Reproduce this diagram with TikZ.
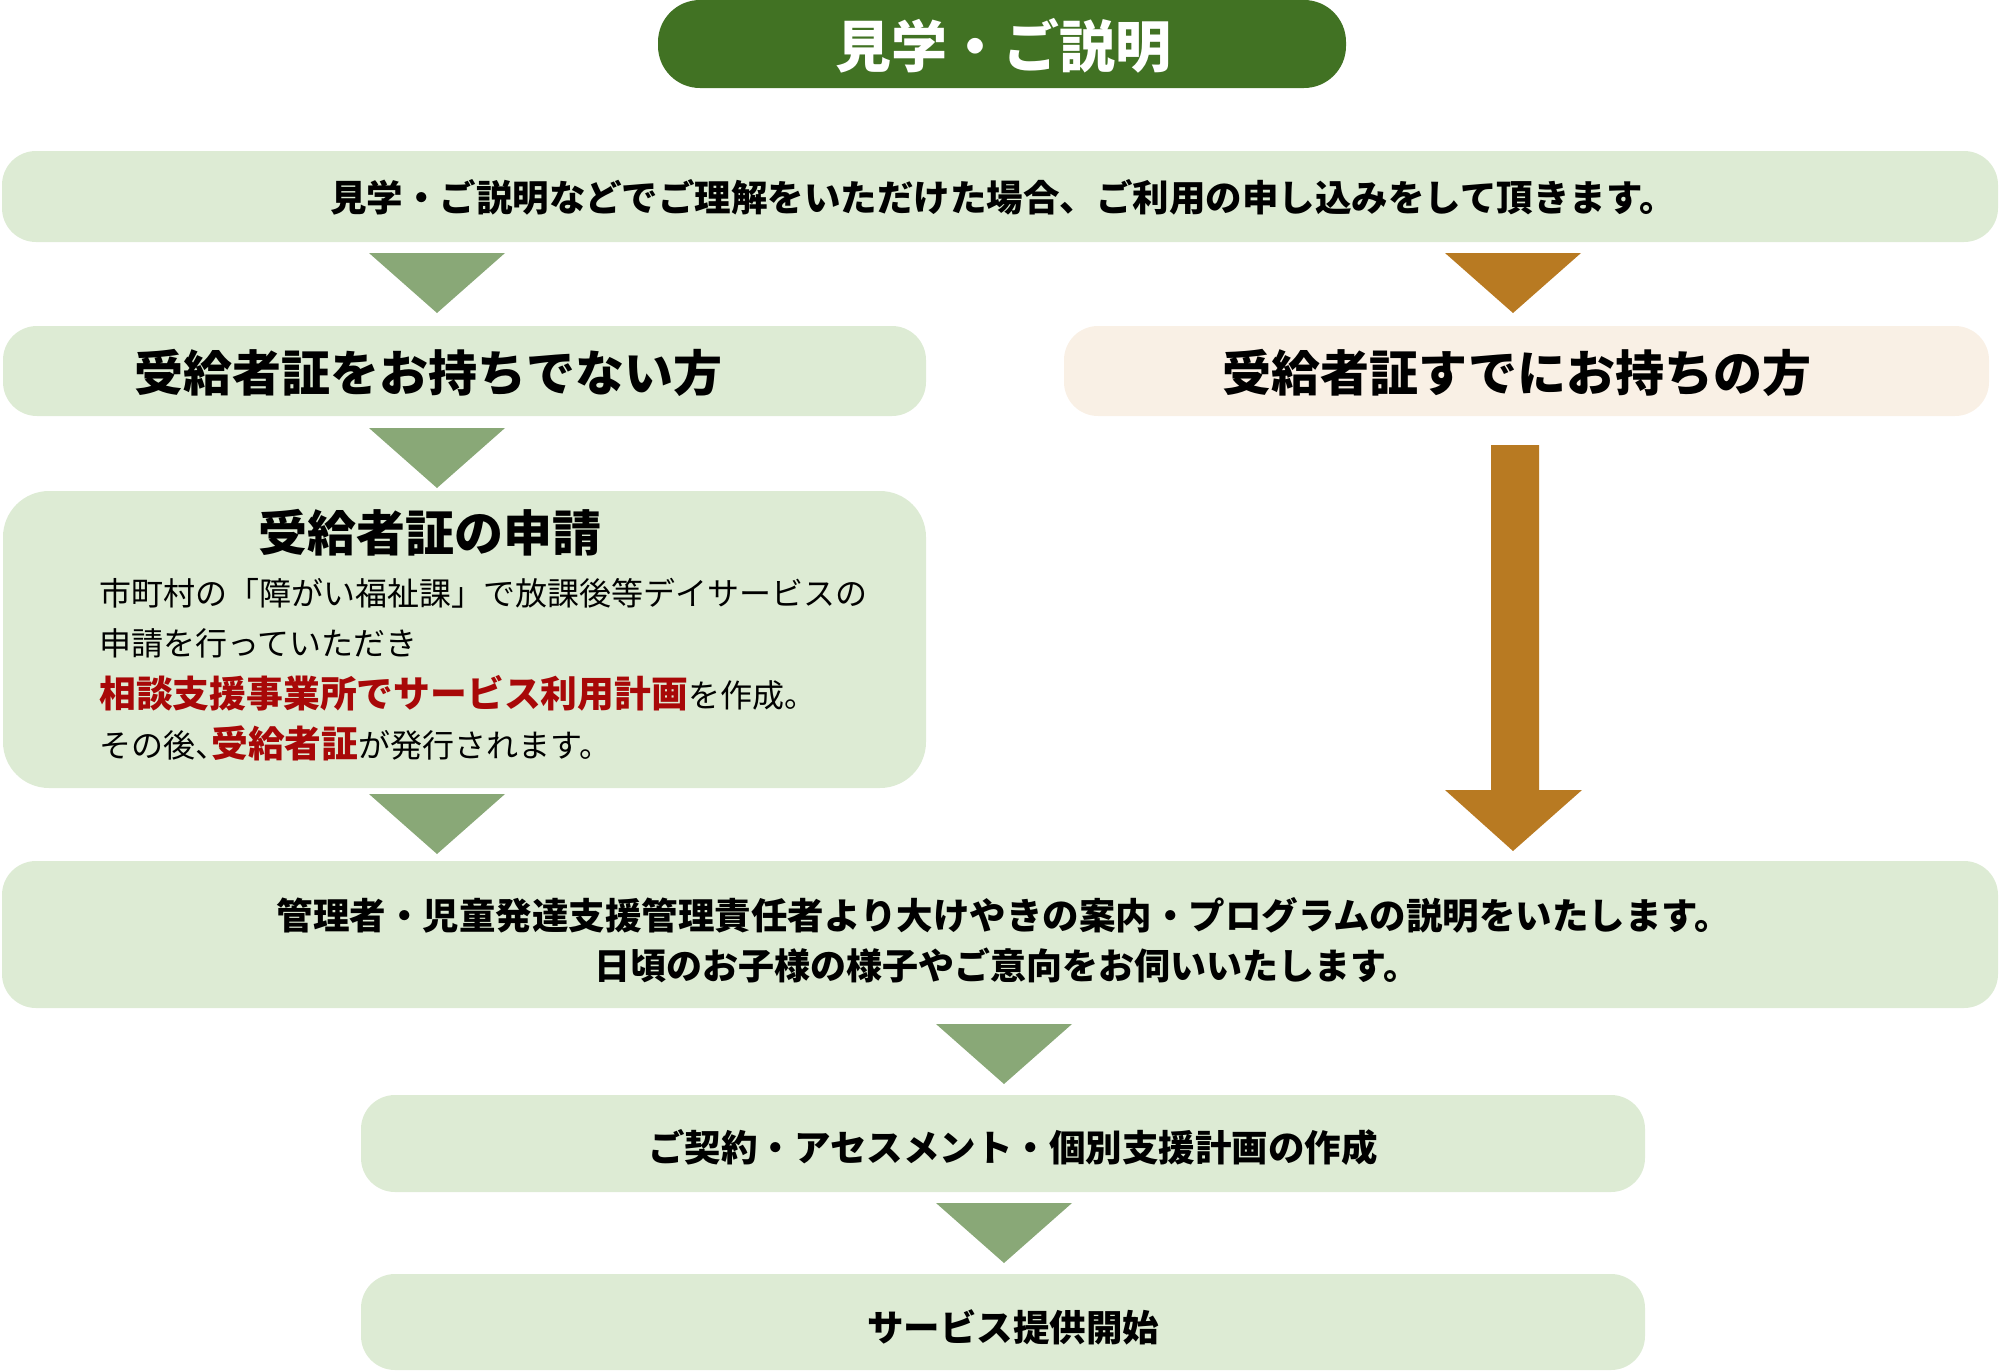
\documentclass[tikz,border=0pt]{standalone}
\usepackage{fontspec}
\setmainfont{Noto Sans CJK JP}
\definecolor{titlegreen}{RGB}{65,114,35}
\definecolor{boxgreen}{RGB}{221,235,212}
\definecolor{boxbeige}{RGB}{249,240,229}
\definecolor{arrowgreen}{RGB}{137,168,119}
\definecolor{arrowbrown}{RGB}{184,122,34}
\definecolor{darkred}{RGB}{168,8,8}
\newcommand\jfs[1]{\fontsize{#1pt}{#1pt}\selectfont}
\newcommand\dtri[3]{\fill[#1] ({#2-68},#3) -- ({#2+68},#3) -- (#2,{#3+60}) -- cycle;}
\tikzset{
  gbox/.style={fill=boxgreen, draw=none, rounded corners=34pt, inner sep=0pt},
  bbox/.style={fill=boxbeige, draw=none, rounded corners=34pt, inner sep=0pt},
  tbox/.style={fill=titlegreen, draw=none, rounded corners=42pt, inner sep=0pt},
  txt/.style={inner sep=0pt, text=black},
}
\begin{document}
\begin{tikzpicture}[x=1pt,y=-1pt]
\useasboundingbox (0,0) rectangle (2000,1371);
% boxes
\node[tbox, minimum width=688pt, minimum height=88pt] (title) at (1002,44) {};
\node[gbox, minimum width=1996pt, minimum height=91pt] (b1) at (1000,196.5) {};
\node[gbox, minimum width=923pt, minimum height=90pt] (b2l) at (464.5,371) {};
\node[bbox, minimum width=925pt, minimum height=90pt] (b2r) at (1526.5,371) {};
\node[gbox, minimum width=923pt, minimum height=297pt, rounded corners=46pt] (b3) at (464.5,639.5) {};
\node[gbox, minimum width=1996pt, minimum height=147pt] (b4) at (1000,934.5) {};
\node[gbox, minimum width=1284pt, minimum height=97pt] (b5) at (1003,1143.5) {};
\node[gbox, minimum width=1284pt, minimum height=96pt] (b6) at (1003,1322) {};
% texts
\node[txt, text=white] (ttitle) at (1003,46) {\jfs{56}\bfseries 見学・ご説明};
\node[txt] (t1) at (1003,197) {\jfs{36.5}\bfseries 見学・ご説明などでご理解をいただけた場合、ご利用の申し込みをして頂きます。};
\node[txt] (t2l) at (428,373) {\jfs{49}\bfseries 受給者証をお持ちでない方};
\node[txt] (t2r) at (1517,373) {\jfs{49}\bfseries 受給者証すでにお持ちの方};
\node[txt] (t3) at (429.5,533) {\jfs{49}\bfseries 受給者証の申請};
\node[txt, anchor=base west] (l1) at (99,605) {\jfs{32}市町村の「障がい福祉課」で放課後等デイサービスの};
\node[txt, anchor=base west] (l2) at (99,655) {\jfs{32}申請を行っていただき};
\node[txt, anchor=base west] (l3) at (99,707) {{\jfs{36.8}\bfseries\color{darkred}相談支援事業所でサービス利用計画}{\jfs{32}を作成。}};
\node[txt, anchor=base west] (l4) at (99,757) {{\jfs{32}その後{\addfontfeature{RawFeature=+halt}、}}{\jfs{36.8}\bfseries\color{darkred}受給者証}{\jfs{32}が発行されます。}};
\node[txt] (t4a) at (1004,915) {\jfs{36.5}\bfseries 管理者・児童発達支援管理責任者より大けやきの案内・プログラムの説明をいたします。};
\node[txt] (t4b) at (1007,965) {\jfs{36}\bfseries 日頃のお子様の様子やご意向をお伺いいたします。};
\node[txt] (t5) at (1013,1147) {\jfs{36.5}\bfseries ご契約・アセスメント・個別支援計画の作成};
\node[txt] (t6) at (1013,1327) {\jfs{36.5}\bfseries サービス提供開始};
% arrow triangles
\dtri{arrowgreen}{437}{253}
\dtri{arrowbrown}{1513}{253}
\dtri{arrowgreen}{437}{428}
\dtri{arrowgreen}{437}{794}
\dtri{arrowgreen}{1004}{1024}
\dtri{arrowgreen}{1004}{1203}
% long brown arrow
\fill[arrowbrown] (1491,445) -- (1539,445) -- (1539,790) -- (1582,790) -- (1513,851) -- (1445,790) -- (1491,790) -- cycle;
\end{tikzpicture}
\end{document}
